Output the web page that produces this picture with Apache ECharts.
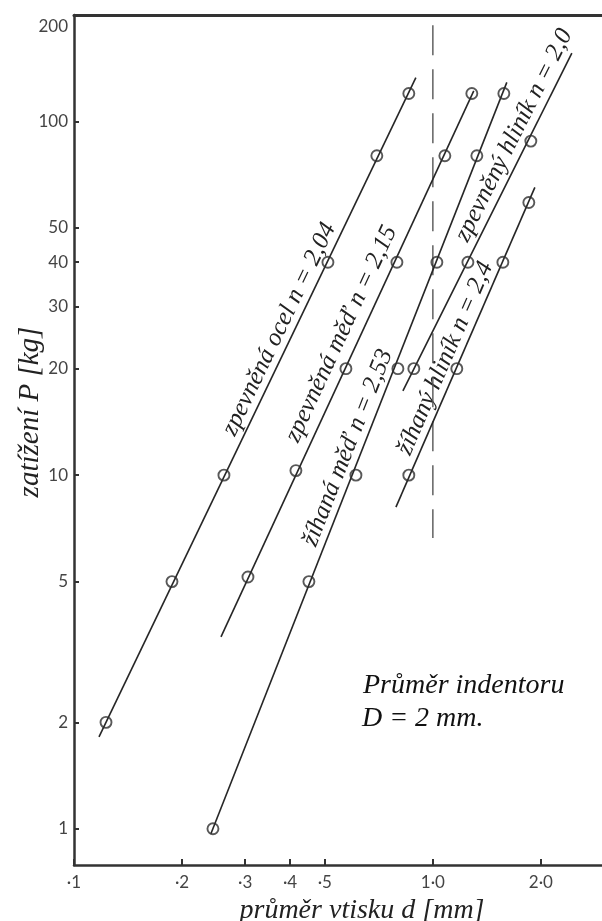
<!DOCTYPE html>
<html><head><meta charset="utf-8">
<script src="https://cdn.jsdelivr.net/npm/echarts@6/dist/echarts.min.js"></script>
<style>html,body{margin:0;padding:0;background:#fff}#c{width:602px;height:921px}</style>
</head><body><div id="c"></div>
<script>
// ---- tick values and labels ----
const xTicks = [0.1, 0.2, 0.3, 0.4, 0.5, 1.0, 2.0];
const xTickLabels = ['·1', '·2', '·3', '·4', '·5', '1·0', '2·0'];
const yTicks = [1, 2, 5, 10, 20, 30, 40, 50, 100, 200];
const yTickLabels = ['1', '2', '5', '10', '20', '30', '40', '50', '100', '200'];

// ---- series names ----
const seriesNames = [
  'zpevněná ocel n = 2,04',
  'zpevněná měď n = 2,15',
  'žíhaná měď n = 2,53',
  'zpevněný hliník n = 2,0',
  'žíhaný hliník n = 2,4'
];

// ---- measured points [d (mm), P (kg)] ----
const ocelPoints  = [[0.1228, 2], [0.1875, 5], [0.2617, 10], [0.510, 40], [0.698, 80], [0.857, 120]];
const medZpPoints = [[0.3053, 5.15], [0.4153, 10.3], [0.5724, 20], [0.794, 40], [1.080, 80], [1.284, 120]];
const medZhPoints = [[0.2439, 1], [0.4514, 5], [0.6104, 10], [0.799, 20], [1.026, 40], [1.326, 80], [1.577, 120]];
const alZpPoints  = [[0.885, 20], [1.252, 40], [1.875, 88]];
const alZhPoints  = [[0.857, 10], [1.166, 20], [1.567, 40], [1.851, 59]];

// ---- fitted lines (end points) ----
const ocelFit  = [[0.1174, 1.82], [0.8966, 133]];
const medZpFit = [[0.2568, 3.49], [1.30, 122]];
const medZhFit = [[0.2407, 0.968], [1.607, 129]];
const alZpFit  = [[0.825, 17.3], [2.439, 156]];
const alZhFit  = [[0.789, 8.12], [1.924, 65.1]];

// ---- indentor diameter reference (dashed), drawn from top down ----
const indentorLine = [[1.0, 187], [1.0, 6.64]];

const pointSets = [ocelPoints, medZpPoints, medZhPoints, alZpPoints, alZhPoints];
const fitSets = [ocelFit, medZpFit, medZhFit, alZpFit, alZhFit];

// label placement: fraction along the fitted line, perpendicular gap (px)
const labelAlong = [0.609, 0.541, 0.507, 0.737, 0.448];
const labelGap = [14, 18, 14, 15, 14];

function pickLabel(v, ticks, labels) {
  let best = 0, bd = Infinity;
  ticks.forEach((t, i) => { const d = Math.abs(Math.log(v / t)); if (d < bd) { bd = d; best = i; } });
  return labels[best];
}

const chart = echarts.init(document.getElementById('c'));
const XMIN = 0.1, XMAX = 2.96, YMIN = 0.79, YMAX = 200;
const axisColor = '#333';
const tickFont = 'Lato';

const series = [];
fitSets.forEach((f, i) => {
  series.push({
    type: 'line', name: seriesNames[i], data: f, symbol: 'none', showSymbol: false,
    lineStyle: { color: '#262626', width: 1.6 }, z: 2, silent: true
  });
});
pointSets.forEach((p, i) => {
  series.push({
    type: 'scatter', name: seriesNames[i] + ' body', data: p, symbol: 'circle', symbolSize: 11,
    itemStyle: { color: 'rgba(255,255,255,0)', borderColor: '#2e2e2e', borderWidth: 1.9 }, z: 3, silent: true
  });
});
series.push({
  type: 'line', name: 'D', data: indentorLine, symbol: 'none',
  lineStyle: { color: '#555', width: 1.4, type: [30, 14] }, z: 1, silent: true
});

chart.setOption({
  animation: false,
  backgroundColor: '#fff',
  grid: { left: 74, right: 0, top: 15, bottom: 56 },
  xAxis: [{
    type: 'log', logBase: 10, min: XMIN, max: XMAX,
    axisLine: { show: true, lineStyle: { color: axisColor, width: 2.5 } },
    axisTick: { show: true, inside: true, length: 6, customValues: xTicks, lineStyle: { color: axisColor, width: 2 } },
    axisLabel: { customValues: xTicks, margin: 9, fontFamily: tickFont, fontSize: 17, color: '#444',
      formatter: v => pickLabel(v, xTicks, xTickLabels) },
    splitLine: { show: false }, minorTick: { show: false }
  }, {
    type: 'log', logBase: 10, min: XMIN, max: XMAX, position: 'top',
    axisLine: { show: true, lineStyle: { color: axisColor, width: 3 } },
    axisTick: { show: false }, axisLabel: { show: false }, splitLine: { show: false }
  }],
  yAxis: {
    type: 'log', logBase: 10, min: YMIN, max: YMAX,
    axisLine: { show: true, lineStyle: { color: axisColor, width: 2.5 } },
    axisTick: { show: true, inside: true, length: 5, customValues: yTicks, lineStyle: { color: axisColor, width: 2 } },
    axisLabel: { customValues: yTicks, margin: 6, fontFamily: tickFont, fontSize: 17, color: '#444',
      formatter: v => { const s = pickLabel(v, yTicks, yTickLabels); return s === '200' ? '{t|200}' : s; },
      rich: { t: { fontFamily: tickFont, fontSize: 17, color: '#444', padding: [24, 0, 0, 0] } } },
    splitLine: { show: false }, minorTick: { show: false }
  },
  series: series
});

// ---- text graphics ----
const serif = '"Liberation Serif", "Times New Roman", serif';
const graphics = [];
fitSets.forEach((f, i) => {
  const p1 = chart.convertToPixel({ xAxisIndex: 0, yAxisIndex: 0 }, f[0]);
  const p2 = chart.convertToPixel({ xAxisIndex: 0, yAxisIndex: 0 }, f[1]);
  const dx = p2[0] - p1[0], dy = p2[1] - p1[1];
  const len = Math.hypot(dx, dy);
  const ux = dx / len, uy = dy / len;          // along the line (up-right)
  const nx = uy, ny = -ux;                      // perpendicular, towards upper-left
  const t = labelAlong[i];
  const cx = p1[0] + dx * t + nx * labelGap[i];
  const cy = p1[1] + dy * t + ny * labelGap[i];
  const ang = Math.atan2(-dy, dx);
  graphics.push({
    type: 'text', x: cx, y: cy, rotation: ang, silent: true,
    style: { text: seriesNames[i], font: 'italic 25px ' + serif, fill: '#222',
      textAlign: 'center', textVerticalAlign: 'middle', align: 'center', verticalAlign: 'middle' }
  });
});
graphics.push({
  type: 'text', x: 30, y: 412, rotation: Math.PI / 2, silent: true,
  style: { text: 'zatížení P [kg]', font: 'italic 29px ' + serif, fill: '#222',
    textAlign: 'center', textVerticalAlign: 'middle', align: 'center', verticalAlign: 'middle' }
});
graphics.push({
  type: 'text', x: 362, y: 911, silent: true,
  style: { text: 'průměr vtisku d [mm]', font: 'italic 28px ' + serif, fill: '#222',
    textAlign: 'center', textVerticalAlign: 'middle', align: 'center', verticalAlign: 'middle' }
});
graphics.push({
  type: 'text', x: 363, y: 700, silent: true,
  style: { text: 'Průměr indentoru', font: 'italic 28px ' + serif, fill: '#111',
    textAlign: 'left', textVerticalAlign: 'bottom', align: 'left', verticalAlign: 'bottom' }
});
graphics.push({
  type: 'text', x: 362, y: 733, silent: true,
  style: { text: 'D = 2 mm.', font: 'italic 28px ' + serif, fill: '#111',
    textAlign: 'left', textVerticalAlign: 'bottom', align: 'left', verticalAlign: 'bottom' }
});
chart.setOption({ graphic: graphics });
</script>
</body></html>
